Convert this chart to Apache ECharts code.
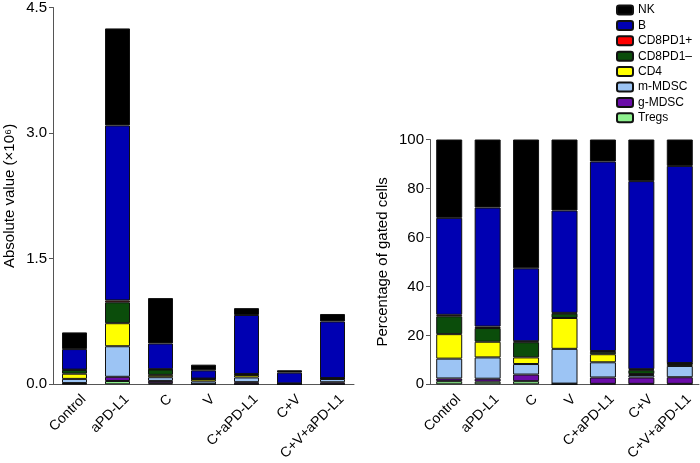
<!DOCTYPE html>
<html>
<head>
<meta charset="utf-8">
<script src="https://cdn.jsdelivr.net/npm/echarts@6/dist/echarts.min.js"></script>
<style>
html,body{margin:0;padding:0;background:#fff;}
#chart{width:700px;height:463px;}
</style>
</head>
<body>
<div id="chart"></div>
<script>
const categories = ['Control', 'aPD-L1', 'C', 'V', 'C+aPD-L1', 'C+V', 'C+V+aPD-L1'];
const seriesNames = ['Tregs', 'g-MDSC', 'm-MDSC', 'CD4', 'CD8PD1–', 'CD8PD1+', 'B', 'NK'];
const legendOrder = ['NK', 'B', 'CD8PD1+', 'CD8PD1–', 'CD4', 'm-MDSC', 'g-MDSC', 'Tregs'];
const absTicks = [0, 1.5, 3.0, 4.5];
const pctTicks = [0, 20, 40, 60, 80, 100];

// Absolute values (x10^6)
const absTregs  = [0.008, 0.040, 0.013, 0.001, 0.002, 0.0003, 0.002];
const absGMDSC  = [0.007, 0.050, 0.028, 0.001, 0.024, 0.004, 0.023];
const absMMDSC  = [0.050, 0.365, 0.044, 0.033, 0.056, 0.002, 0.039];
const absCD4    = [0.062, 0.275, 0.028, 0.029, 0.030, 0.001, 0.007];
const absCD8neg = [0.045, 0.250, 0.064, 0.004, 0.009, 0.003, 0.003];
const absCD8pos = [0.004, 0.022, 0.004, 0.001, 0.003, 0.001, 0.001];
const absB      = [0.245, 2.090, 0.307, 0.098, 0.704, 0.129, 0.676];
const absNK     = [0.199, 1.158, 0.542, 0.068, 0.082, 0.028, 0.089];

// Percentage of gated cells
const pctTregs  = [1.3, 1.1, 1.3, 0.1, 0.2, 0.2, 0.2];
const pctGMDSC  = [1.1, 1.2, 2.7, 0.2, 2.6, 2.6, 2.7];
const pctMMDSC  = [8.1, 8.7, 4.3, 14.2, 6.2, 1.0, 4.6];
const pctCD4    = [10.0, 6.4, 2.7, 12.6, 3.3, 0.4, 0.8];
const pctCD8neg = [7.3, 5.6, 6.2, 1.8, 1.0, 1.6, 0.3];
const pctCD8pos = [0.6, 0.6, 0.4, 0.3, 0.3, 0.4, 0.1];
const pctB      = [39.6, 48.6, 29.8, 41.8, 77.4, 76.8, 80.5];
const pctNK     = [32.0, 27.8, 52.6, 29.0, 9.0, 17.0, 10.8];

const absData = [absTregs, absGMDSC, absMMDSC, absCD4, absCD8neg, absCD8pos, absB, absNK];
const pctData = [pctTregs, pctGMDSC, pctMMDSC, pctCD4, pctCD8neg, pctCD8pos, pctB, pctNK];
const colors = ['#8ef08e', '#6a0ca8', '#9cc4f4', '#ffff00', '#0b4d0b', '#ff0000', '#0000b2', '#000000'];

const FONT = 'Liberation Sans, Arial, sans-serif';
const axisLineStyle = { color: '#555', width: 1 };

function makeSeries(data, idx, stack, barWidth) {
  return data.map((arr, i) => ({
    name: seriesNames[i],
    type: 'bar',
    stack: stack,
    xAxisIndex: idx,
    yAxisIndex: idx,
    barWidth: barWidth,
    data: arr,
    itemStyle: { color: colors[i], borderColor: '#111', borderWidth: 1 },
    emphasis: { disabled: true },
    animation: false
  }));
}

const chart = echarts.init(document.getElementById('chart'), null, { renderer: 'canvas' });
const xAxisCommon = {
  type: 'category',
  data: categories,
  axisLine: { lineStyle: axisLineStyle },
  axisTick: { alignWithLabel: true, length: 4, lineStyle: axisLineStyle },
  axisLabel: {
    rotate: 45, fontSize: 14, color: '#000', fontFamily: FONT, margin: 12, interval: 0,
    verticalAlign: 'top', padding: [0, -6, 0, 0]
  }
};
const option = {
  backgroundColor: '#fff',
  animation: false,
  textStyle: { fontFamily: FONT },
  legend: {
    orient: 'vertical',
    left: 616,
    top: 3,
    padding: 0,
    itemWidth: 16,
    itemHeight: 9,
    itemGap: 1.4,
    data: legendOrder,
    textStyle: { fontSize: 12, color: '#000', fontFamily: FONT, lineHeight: 14 },
    selectedMode: false
  },
  grid: [
    { left: 53, top: 4, width: 301, height: 384 },
    { left: 430, top: 139.5, width: 269, height: 248.5 }
  ],
  xAxis: [
    Object.assign({ gridIndex: 0 }, xAxisCommon),
    Object.assign({ gridIndex: 1 }, xAxisCommon)
  ],
  yAxis: [
    {
      gridIndex: 0, type: 'value', min: absTicks[0], max: absTicks[absTicks.length - 1], interval: 1.5,
      name: 'Absolute value (×10⁶)', nameLocation: 'middle', nameGap: 36,
      nameTextStyle: { fontSize: 15, color: '#000', fontFamily: FONT },
      axisLine: { show: true, lineStyle: axisLineStyle },
      axisTick: { show: true, length: 4, lineStyle: axisLineStyle },
      splitLine: { show: false },
      axisLabel: { fontSize: 15, color: '#000', fontFamily: FONT, margin: 6, formatter: v => v.toFixed(1) }
    },
    {
      gridIndex: 1, type: 'value', min: pctTicks[0], max: pctTicks[pctTicks.length - 1], interval: 20,
      name: 'Percentage of gated cells', nameLocation: 'middle', nameGap: 40,
      nameTextStyle: { fontSize: 15, color: '#000', fontFamily: FONT },
      axisLine: { show: true, lineStyle: axisLineStyle },
      axisTick: { show: true, length: 4, lineStyle: axisLineStyle },
      splitLine: { show: false },
      axisLabel: { fontSize: 15, color: '#000', fontFamily: FONT, margin: 6 }
    }
  ],
  series: makeSeries(absData, 0, 'abs', 25).concat(makeSeries(pctData, 1, 'pct', 26))
};
chart.setOption(option);
</script>
</body>
</html>
